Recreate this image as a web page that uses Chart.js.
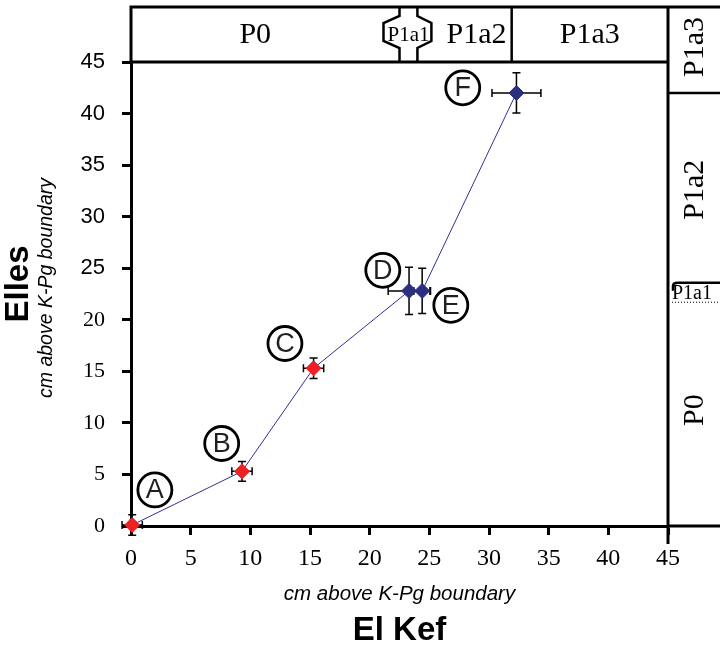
<!DOCTYPE html>
<html>
<head>
<meta charset="utf-8">
<script src="https://cdn.jsdelivr.net/npm/chart.js@4/dist/chart.umd.min.js"></script>
<style>
  html, body { margin: 0; padding: 0; background: #fff; }
  #wrap { width: 720px; height: 647px; }
</style>
</head>
<body>
<div id="wrap"><canvas id="chart"></canvas></div>
<script>
// samples A-F, position in cm above the K-Pg boundary
const sampleNames = ['A', 'B', 'C', 'D', 'E', 'F'];
const elKef = [0.1, 9.3, 15.3, 23.3, 24.4, 32.3];
const elles = [0.1, 5.3, 15.3, 22.8, 22.8, 42.0];
const elKefErr = [0.85, 0.85, 0.85, 1.75, 0.7, 2.05];
const ellesErr = [1.0, 0.95, 1.0, 2.3, 2.2, 1.95];
const pointColors = ['#ee2024', '#ee2024', '#ee2024', '#2b2f7e', '#2b2f7e', '#2b2f7e'];

// where the circled letters sit (data units)
const nameX = [2.0, 7.6, 12.9, 21.1, 26.8, 27.8];
const nameY = [3.5, 8.0, 17.7, 24.8, 21.4, 42.5];

// biozones: El Kef along the top, Elles on the right
const zoneNames = ['P0', 'P1a1', 'P1a2', 'P1a3'];
const elKefZoneTops = [22.5, 24.0, 31.9, 45];
const ellesZoneTops = [21.7, 23.6, 42.0, 45];

const axisTicks = [0, 5, 10, 15, 20, 25, 30, 35, 40, 45];

const points = elKef.map((x, i) => ({ x: x, y: elles[i] }));

const errorBars = {
  id: 'errorBars',
  beforeDatasetsDraw(chart) {
    const { ctx, scales: { x, y } } = chart;
    ctx.save();
    ctx.strokeStyle = '#000';
    ctx.lineWidth = 1.5;
    points.forEach((p, i) => {
      const px = x.getPixelForValue(p.x), py = y.getPixelForValue(p.y);
      const x0 = x.getPixelForValue(p.x - elKefErr[i]), x1 = x.getPixelForValue(p.x + elKefErr[i]);
      const y0 = y.getPixelForValue(p.y - ellesErr[i]), y1 = y.getPixelForValue(p.y + ellesErr[i]);
      ctx.beginPath();
      ctx.moveTo(x0, py); ctx.lineTo(x1, py);
      ctx.moveTo(x0, py - 4); ctx.lineTo(x0, py + 4);
      ctx.moveTo(x1, py - 4); ctx.lineTo(x1, py + 4);
      ctx.moveTo(px, y0); ctx.lineTo(px, y1);
      ctx.moveTo(px - 4, y0); ctx.lineTo(px + 4, y0);
      ctx.moveTo(px - 4, y1); ctx.lineTo(px + 4, y1);
      ctx.stroke();
    });
    ctx.restore();
  }
};

const decorations = {
  id: 'decorations',
  afterDraw(chart) {
    const { ctx, chartArea: a, scales: { x, y } } = chart;
    const W = chart.width;
    const bandTop = 7;
    ctx.save();
    ctx.strokeStyle = '#000';
    ctx.fillStyle = '#000';
    ctx.lineWidth = 3;

    // frame of the zone bands
    ctx.beginPath();
    ctx.moveTo(a.left, a.top); ctx.lineTo(a.left, bandTop);
    ctx.moveTo(a.left - 1.5, bandTop); ctx.lineTo(W, bandTop);
    ctx.moveTo(a.left, a.top); ctx.lineTo(a.right, a.top);
    ctx.moveTo(a.right, bandTop); ctx.lineTo(a.right, a.bottom + 18);
    ctx.moveTo(a.right, a.bottom); ctx.lineTo(W, a.bottom);
    ctx.stroke();

    // top band (El Kef)
    const xb0 = x.getPixelForValue(elKefZoneTops[0]);
    const xb1 = x.getPixelForValue(elKefZoneTops[1]);
    const xb2 = x.getPixelForValue(elKefZoneTops[2]);
    ctx.lineWidth = 2.5;
    ctx.beginPath();
    ctx.moveTo(xb0, bandTop); ctx.lineTo(xb0, 16); ctx.lineTo(xb0 - 16, 23);
    ctx.lineTo(xb0 - 16, 41); ctx.lineTo(xb0, 48); ctx.lineTo(xb0, a.top);
    ctx.moveTo(xb1, bandTop); ctx.lineTo(xb1, 16); ctx.lineTo(xb1 + 14, 23);
    ctx.lineTo(xb1 + 14, 41); ctx.lineTo(xb1, 48); ctx.lineTo(xb1, a.top);
    ctx.moveTo(xb2, bandTop); ctx.lineTo(xb2, a.top);
    ctx.stroke();

    ctx.textAlign = 'center';
    ctx.textBaseline = 'middle';
    const midY = (bandTop + a.top) / 2 + 1;
    ctx.font = '30px "Liberation Serif"';
    ctx.fillText(zoneNames[0], (a.left + xb0) / 2 - 10, midY);
    ctx.fillText(zoneNames[2], (xb1 + xb2) / 2 + 12, midY);
    ctx.fillText(zoneNames[3], (xb2 + a.right) / 2, midY);
    ctx.font = '21px "Liberation Serif"';
    ctx.fillText(zoneNames[1], (xb0 + xb1) / 2, midY);

    // right band (Elles)
    const yb0 = y.getPixelForValue(ellesZoneTops[0]);
    const yb1 = y.getPixelForValue(ellesZoneTops[1]);
    const yb2 = y.getPixelForValue(ellesZoneTops[2]);
    ctx.lineWidth = 2.5;
    ctx.beginPath();
    ctx.moveTo(a.right, yb2); ctx.lineTo(W, yb2);
    ctx.moveTo(a.right + 5, yb1 + 8); ctx.lineTo(a.right + 5, yb1 + 3);
    ctx.quadraticCurveTo(a.right + 5, yb1, a.right + 10, yb1);
    ctx.lineTo(W, yb1);
    ctx.stroke();
    ctx.lineWidth = 1;
    ctx.setLineDash([1, 2]);
    ctx.beginPath();
    ctx.moveTo(a.right + 4, yb0); ctx.lineTo(W, yb0);
    ctx.stroke();
    ctx.setLineDash([]);
    ctx.textAlign = 'left';
    ctx.font = '20px "Liberation Serif"';
    ctx.fillText(zoneNames[1], a.right + 4, (yb0 + yb1) / 2 + 1);

    const midX = (a.right + W) / 2 + 1;
    const labelsRight = [
      [zoneNames[0], (y.getPixelForValue(0) + yb0) / 2 - 4],
      [zoneNames[2], (yb1 + yb2) / 2 + 2],
      [zoneNames[3], (bandTop + yb2) / 2 - 3]
    ];
    ctx.font = '30px "Liberation Serif"';
    ctx.textAlign = 'center';
    labelsRight.forEach(([t, cy]) => {
      ctx.save();
      ctx.translate(midX, cy);
      ctx.rotate(-Math.PI / 2);
      ctx.fillText(t, 0, 0);
      ctx.restore();
    });

    // circled sample letters
    ctx.lineWidth = 2.8;
    ctx.font = '27px "Liberation Sans"';
    sampleNames.forEach((n, i) => {
      const cx = x.getPixelForValue(nameX[i]), cy = y.getPixelForValue(nameY[i]);
      ctx.beginPath();
      ctx.arc(cx, cy, 17, 0, Math.PI * 2);
      ctx.fillStyle = '#fff';
      ctx.fill();
      ctx.stroke();
      ctx.fillStyle = '#231f20';
      ctx.fillText(n, cx, cy + 1);
    });

    // axis titles
    ctx.fillStyle = '#000';
    const cxm = (a.left + a.right) / 2;
    ctx.font = 'italic 20.5px "Liberation Sans"';
    ctx.fillText('cm above K-Pg boundary', cxm, 594);
    ctx.font = 'bold 33px "Liberation Sans"';
    ctx.fillText('El Kef', cxm, 631);
    const cym = (a.top + a.bottom) / 2;
    ctx.save();
    ctx.translate(19, cym - 10);
    ctx.rotate(-Math.PI / 2);
    ctx.fillText('Elles', 0, 0);
    ctx.restore();
    ctx.save();
    ctx.translate(47, cym - 6);
    ctx.rotate(-Math.PI / 2);
    ctx.font = 'italic 19.5px "Liberation Sans"';
    ctx.fillText('cm above K-Pg boundary', 0, 0);
    ctx.restore();

    ctx.restore();
  }
};

const axisStyle = {
  type: 'linear',
  min: 0,
  max: 45,
  afterBuildTicks: s => { s.ticks = axisTicks.map(v => ({ value: v })); },
  grid: { drawOnChartArea: false, tickLength: 9, tickWidth: 3, tickColor: '#000' },
  border: { width: 3, color: '#000' }
};

new Chart(document.getElementById('chart'), {
  type: 'scatter',
  data: {
    datasets: [{
      data: points,
      showLine: true,
      borderColor: '#2e3192',
      borderWidth: 1,
      pointStyle: 'rectRot',
      pointRadius: 7.5,
      pointHoverRadius: 7.5,
      pointBackgroundColor: pointColors,
      pointBorderColor: pointColors,
      clip: false
    }]
  },
  options: {
    responsive: true,
    maintainAspectRatio: false,
    animation: false,
    layout: { padding: { left: 0, top: 62, right: 52, bottom: 0 } },
    plugins: { legend: { display: false }, tooltip: { enabled: false } },
    scales: {
      x: Object.assign({}, axisStyle, {
        ticks: { color: '#000', padding: 9, font: { family: 'Liberation Serif', size: 24 } },
        afterFit: s => { s.height = 121; }
      }),
      y: Object.assign({}, axisStyle, {
        ticks: {
          color: '#000', padding: 17,
          font: ctx => ({ family: ctx.tick && ctx.tick.value >= 25 ? 'Liberation Sans' : 'Liberation Serif', size: 22 })
        },
        afterFit: s => { s.width = 131; }
      })
    }
  },
  plugins: [errorBars, decorations]
});
</script>
</body>
</html>
